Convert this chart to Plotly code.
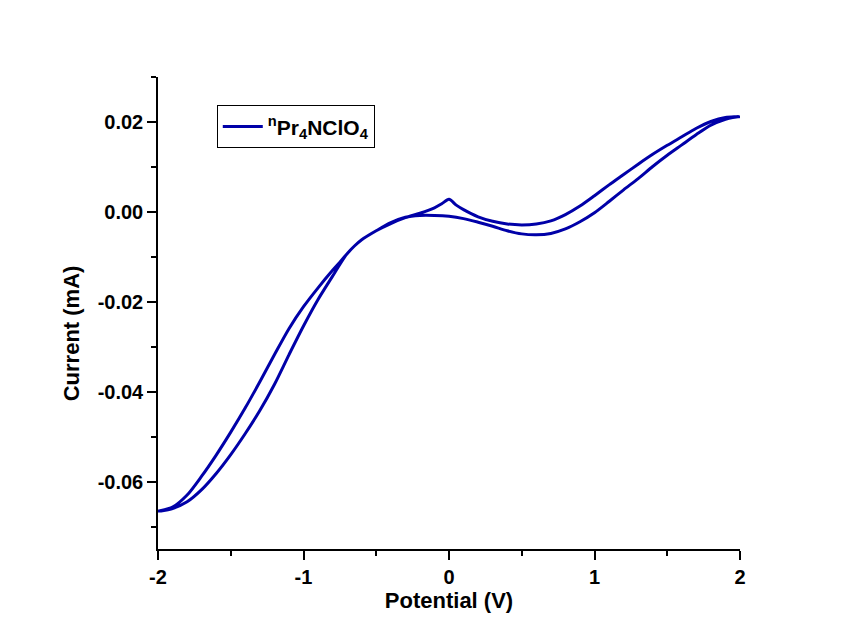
import plotly.graph_objects as go

# Segment A: start at 0 V, forward sweep to +2 V
pot_fwd = [0.0, 0.05, 0.1, 0.2, 0.3, 0.4, 0.5, 0.6, 0.7, 0.8, 0.9, 1.0,
           1.1, 1.2, 1.3, 1.4, 1.5, 1.6, 1.7, 1.8, 1.9, 2.0]
cur_fwd = [0.0028, 0.0015, 0.0005, -0.0011, -0.0021, -0.0027, -0.0029, -0.0027, -0.0020, -0.0006, 0.0013, 0.0036,
           0.0060, 0.0083, 0.0106, 0.0128, 0.0148, 0.0167, 0.0186, 0.0201, 0.0210, 0.0212]

# Segment B: reverse sweep from +2 V down to -2 V
pot_rev = [1.95, 1.9, 1.8, 1.7, 1.6, 1.5, 1.4, 1.3, 1.2, 1.1, 1.0,
           0.9, 0.8, 0.7, 0.6, 0.5, 0.4, 0.3, 0.2, 0.1, 0.0,
           -0.1, -0.2, -0.3, -0.4, -0.5, -0.6, -0.65, -0.7, -0.75, -0.8, -0.9, -1.0,
           -1.1, -1.2, -1.3, -1.4, -1.5, -1.6, -1.7, -1.8, -1.9, -2.0]
cur_rev = [0.0210, 0.0206, 0.0193, 0.0172, 0.0149, 0.0126, 0.0101, 0.0074, 0.0049, 0.0023, -0.0002,
           -0.0022, -0.0038, -0.0048, -0.0051, -0.0049, -0.0042, -0.0032, -0.0023, -0.0015, -0.0010,
           -0.0008, -0.0008, -0.0012, -0.0024, -0.0042, -0.0062, -0.0076, -0.0093, -0.0117, -0.0143, -0.0195, -0.0254,
           -0.0318, -0.0384, -0.0442, -0.0493, -0.0540, -0.0582, -0.0618, -0.0645, -0.0660, -0.0666]

# Segment C: return sweep from -2 V back to 0 V
pot_ret = [-1.9, -1.8, -1.7, -1.6, -1.5, -1.4, -1.3, -1.2, -1.1, -1.0,
           -0.9, -0.8, -0.75, -0.7, -0.65, -0.6, -0.5, -0.4, -0.3, -0.2, -0.1, -0.05, 0.0]
cur_ret = [-0.0657, -0.0630, -0.0588, -0.0541, -0.0490, -0.0436, -0.0378, -0.0318, -0.0260, -0.0211,
           -0.0169, -0.0130, -0.0112, -0.0093, -0.0076, -0.0062, -0.0042, -0.0026, -0.0013, -0.0003, 0.0009, 0.0018, 0.0028]

x_tick_vals = [-2, -1, 0, 1, 2]
x_tick_text = ["-2", "-1", "0", "1", "2"]
y_tick_vals = [-0.06, -0.04, -0.02, 0.00, 0.02]
y_tick_text = ["-0.06", "-0.04", "-0.02", "0.00", "0.02"]

series_name = "<sup>n</sup>Pr<sub>4</sub>NClO<sub>4</sub>"

potential = pot_fwd + pot_rev + pot_ret
current = cur_fwd + cur_rev + cur_ret

FONT = "Liberation Sans, Arial, sans-serif"
BLUE = "#0000A8"

fig = go.Figure()
fig.add_trace(go.Scatter(
    x=potential, y=current, mode="lines", name=series_name,
    line=dict(color=BLUE, width=3, shape="spline", smoothing=0.8),
))

axis_common = dict(
    showline=True, linecolor="black", linewidth=1.5, mirror=False,
    ticks="outside", ticklen=9, tickwidth=1.5, tickcolor="black",
    showgrid=False, zeroline=False,
    tickfont=dict(family=FONT, size=20, color="black", weight="bold"),
)

fig.update_xaxes(
    range=[-2, 2], tickvals=x_tick_vals, ticktext=x_tick_text,
    minor=dict(ticks="outside", ticklen=5, tickwidth=1.5, tickcolor="black", dtick=0.5, showgrid=False),
    title=dict(text="<b>Potential (V)</b>", font=dict(family=FONT, size=22, color="black"), standoff=6),
    **axis_common,
)
fig.update_yaxes(
    range=[-0.075, 0.03], tickvals=y_tick_vals, ticktext=y_tick_text,
    minor=dict(ticks="outside", ticklen=5, tickwidth=1.5, tickcolor="black", dtick=0.01, tick0=0, showgrid=False),
    **axis_common,
)

fig.add_annotation(
    text="<b>Current (mA)</b>", xref="paper", yref="paper",
    x=-0.149, y=0.4576, showarrow=False, textangle=-90,
    font=dict(family=FONT, size=22, color="black"),
    xanchor="center", yanchor="middle",
)

fig.update_layout(
    width=844, height=644,
    margin=dict(l=158, r=104, t=77, b=95),
    paper_bgcolor="white", plot_bgcolor="white",
    showlegend=True,
    legend=dict(
        x=0.101, y=0.94, xanchor="left", yanchor="top",
        bgcolor="rgba(255,255,255,0)", bordercolor="black", borderwidth=1,
        font=dict(family=FONT, size=21, color="black", weight="bold"),
        itemwidth=40, tracegroupgap=0,
    ),
)

fig.write_html("out.html")
